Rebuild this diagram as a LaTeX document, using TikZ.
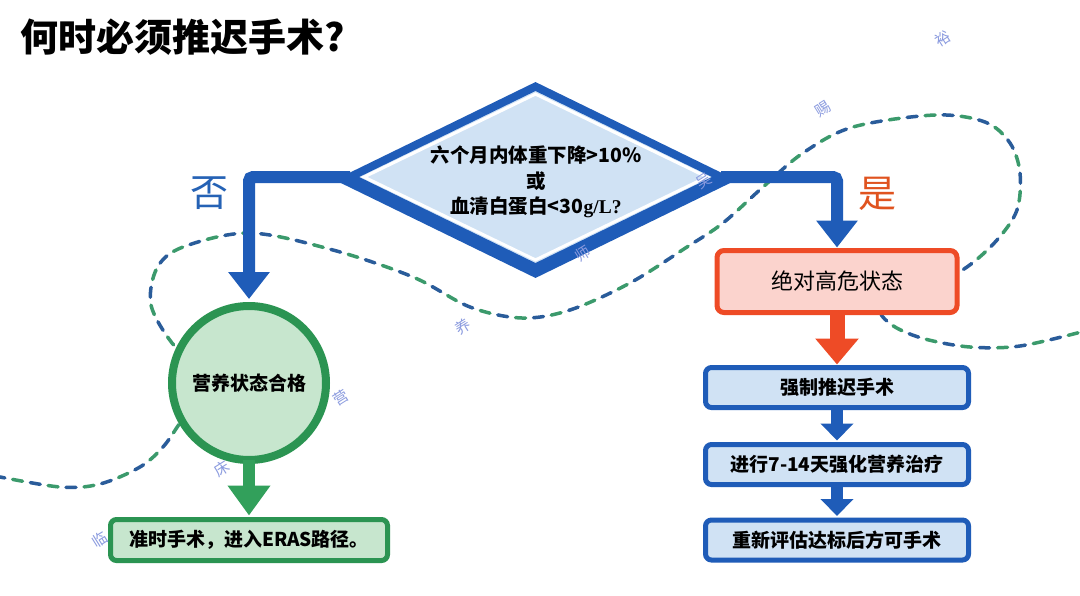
\documentclass[tikz,border=0pt]{standalone}
\usepackage{fontspec}
\setmainfont{Noto Sans CJK SC}
\newfontfamily\serifx{Liberation Serif}
\usetikzlibrary{arrows.meta,shapes.geometric,calc}
\pgfdeclarelayer{bgfill}\pgfdeclarelayer{back}\pgfdeclarelayer{mid}
\pgfsetlayers{bgfill,back,mid,main}
\definecolor{dblue}{HTML}{1F5CB8}
\definecolor{lblue}{HTML}{D0E2F4}
\definecolor{rred}{HTML}{EE4B26}
\definecolor{lred}{HTML}{FBD3CD}
\definecolor{gg}{HTML}{2B9452}
\definecolor{garr}{HTML}{32A05B}
\definecolor{lg}{HTML}{C7E6CE}
\definecolor{cb}{HTML}{2A5C9A}
\definecolor{cg}{HTML}{3B9A6C}
\definecolor{wm}{HTML}{8B9BDF}
\definecolor{shi}{HTML}{E0531F}
\definecolor{fou}{HTML}{2562B5}
\tikzset{
  bluebox/.style={draw=dblue, fill=lblue, line width=5pt, rounded corners=6pt, minimum width=263pt, minimum height=40pt, inner sep=0pt, outer sep=0pt, font=\bfseries\fontsize{19}{22}\selectfont},
  redbox/.style={draw=rred, fill=lred, line width=5pt, rounded corners=7pt, minimum width=240pt, minimum height=62pt, inner sep=0pt, outer sep=0pt, font=\fontsize{22}{24}\selectfont},
  greenbox/.style={draw=gg, fill=lg, line width=5pt, rounded corners=6pt, minimum width=277pt, minimum height=41pt, inner sep=0pt, outer sep=0pt, font=\bfseries\fontsize{19}{22}\selectfont},
  gcircle/.style={circle, draw=gg, fill=lg, line width=8pt, minimum size=154pt, inner sep=0pt, outer sep=0pt, font=\bfseries\fontsize{19}{22}\selectfont},
  dia/.style={diamond, line width=8pt, minimum width=371pt, minimum height=181pt, inner sep=0pt, outer sep=0pt},
  mainconn/.style={draw=dblue, line width=12pt, rounded corners=4pt, -{Triangle[width=40pt,length=27pt]}},
  redarr/.style={draw=rred, line width=15pt, -{Triangle[width=42pt,length=26pt]}},
  smallarr/.style={draw=dblue, line width=12pt, -{Triangle[width=32pt,length=17pt]}},
  greenarr/.style={draw=garr, line width=12pt, -{Triangle[width=41pt,length=30pt]}},
  wmark/.style={text=wm, font=\fontsize{15}{15}\selectfont, rotate=32, inner sep=0pt},
  curveline/.style={line width=3.5pt, line cap=round}
}
\begin{document}
\begin{tikzpicture}[x=1pt,y=-1pt]
\begin{pgfonlayer}{bgfill}
\fill[white] (0,0) rectangle (1080,595);
\end{pgfonlayer}
\useasboundingbox (0,0) rectangle (1080,595);

% title
\node[anchor=west, font=\bfseries\fontsize{38}{40}\selectfont, inner sep=0pt] (title) at (20,37) {何时必须推迟手术?};

% decorative dashed curve
\begin{pgfonlayer}{back}
\def\curvepts{(-5,476) (60,487) (100,484) (140,467) (163,447) (180,423) (200,395) (195,362) (172,343) (151,305) (157,268) (183,247) (250,233) (333,250) (413,277) (470,307) (522,318) (570,310) (630,283) (687,247) (723,223) (763,187) (803,153) (853,127) (935,115) (985,122) (1010,143) (1020,173) (1017,210) (997,240) (967,267) (930,287) (890,300) (880,312) (895,327) (925,339) (970,347) (1020,346) (1085,331)}
\draw[curveline, draw=cb, dash pattern=on 10pt off 26pt] plot[smooth, tension=0.55] coordinates {\curvepts};
\draw[curveline, draw=cg, dash pattern=on 10pt off 26pt, dash phase=18pt] plot[smooth, tension=0.55] coordinates {\curvepts};
\end{pgfonlayer}

% diamond decision
\node[dia, draw=dblue, fill=dblue] (dslab) at (535.5,183) {};
\node[dia, draw=dblue, fill=lblue] (d) at (535.5,177) {};
\node[diamond, draw=white, line width=3pt, minimum width=344pt, minimum height=167pt, inner sep=0pt] (dinner) at (d.center) {};
\node[align=center, font=\bfseries\fontsize{19.5}{25.5}\selectfont, inner sep=0pt] (dtext) at (536,182) {六个月内体重下降>10\%\\或\\血清白蛋白<30{\serifx g/L?}};

% yes / no labels
\node[text=fou, font=\fontsize{38}{38}\selectfont, inner sep=0pt] (no) at (209,193) {否};
\node[text=shi, font=\fontsize{38}{38}\selectfont, inner sep=0pt] (yes) at (877,194) {是};

% left branch
\node[gcircle] (c) at (249,383) {营养状态合格};
\node[greenbox] (gb) at (249,540) {准时手术，进入ERAS路径。};

% right branch
\node[redbox] (r) at (837,281.5) {绝对高危状态};
\node[bluebox] (b1) at (837,387.5) {强制推迟手术};
\node[bluebox] (b2) at (837,464.5) {进行7-14天强化营养治疗};
\node[bluebox] (b3) at (837,540) {重新评估达标后方可手术};

% connectors
\begin{pgfonlayer}{mid}
\draw[mainconn] (d.west) -| ([yshift=7pt]c.north);
\draw[mainconn] (d.east) -| ([yshift=3pt]r.north);
\end{pgfonlayer}
\draw[greenarr] (c.south) -- ([yshift=4pt]gb.north);
\draw[redarr] (r.south) -- ([yshift=3pt]b1.north);
\draw[smallarr] (b1.south) -- ([yshift=4pt]b2.north);
\draw[smallarr] (b2.south) -- ([yshift=4pt]b3.north);

% watermark characters
\node[wmark] (w1) at (100,540) {临};
\node[wmark] (w2) at (222,469) {床};
\node[wmark] (w3) at (341,398) {营};
\node[wmark] (w4) at (463,327) {养};
\node[wmark] (w5) at (583,254) {师};
\node[wmark] (w6) at (704,181) {吴};
\node[wmark] (w7) at (823,109) {赐};
\node[wmark] (w8) at (943,39) {裕};
\end{tikzpicture}
\end{document}
